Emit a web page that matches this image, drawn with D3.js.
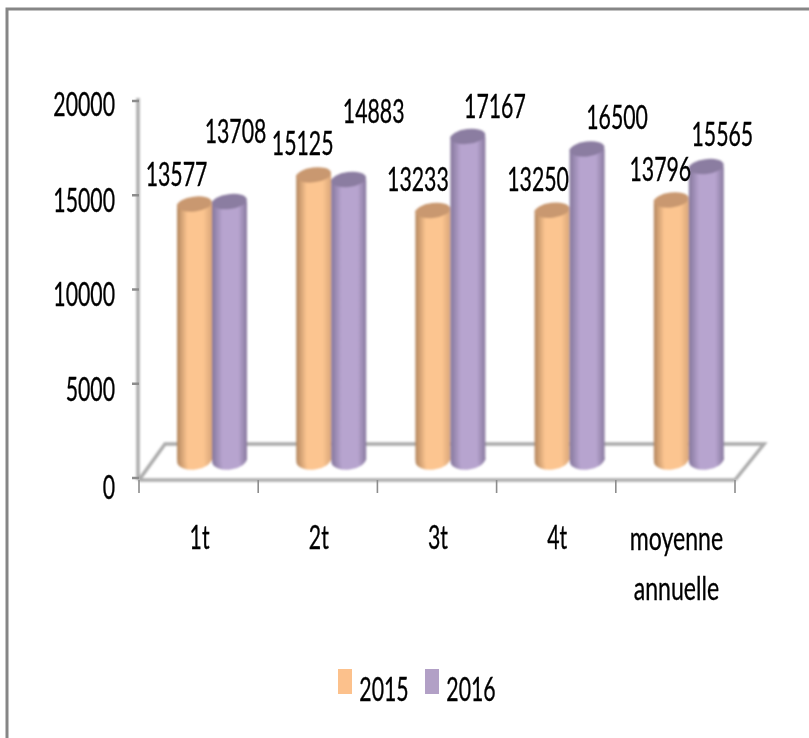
<!DOCTYPE html>
<html><head><meta charset="utf-8">
<script src="https://cdn.jsdelivr.net/npm/d3@7/dist/d3.min.js"></script>
<style>html,body{margin:0;background:#fff;overflow:hidden}svg{display:block}text{font-family:Lato,"Noto Sans",sans-serif;fill:#000;stroke:#000;stroke-width:.35}</style>
</head><body><svg id="c" width="809" height="738"></svg>
<script>
const categories=["1t","2t","3t","4t","moyenne annuelle"];
const seriesNames=["2015","2016"];
const values2015=[13577,15125,13233,13250,13796];
const values2016=[13708,14883,17167,16500,15565];
const tickValues=[0,5000,10000,15000,20000];
const colors2015=["#b4875f","#fcc590","#fcc590","#d9a679"];
const colors2016=["#85779c","#b7a4cf","#b7a4cf","#897a9f"];
const topColors=["#c9986f","#8b7da1"];
const swatchColors=["#fcc18c","#b2a0c6"];
// hand placement of value labels relative to the top of each cylinder
const labelShift={ "2015":[[-18,-31],[-11,-32],[-15,-32],[-14,-32],[-11,-31]],
                   "2016":[[6,-71],[25,-69],[27,-31],[30,-32],[16,-33]] };
// hand placement of tick labels relative to their ticks
const tickLabelDy={0:9,5000:5,10000:4,15000:4,20000:3};

const svg=d3.select("#c");
const defs=svg.append("defs");
defs.append("filter").attr("id","soft").append("feGaussianBlur").attr("stdDeviation",0.85);
defs.append("filter").attr("id","softT").append("feGaussianBlur").attr("stdDeviation",0.35);
[colors2015,colors2016].forEach((cs,i)=>{
  const g=defs.append("linearGradient").attr("id","g"+i);
  [0,.3,.75,1].forEach((o,k)=>g.append("stop").attr("offset",o).attr("stop-color",cs[k]));
});

const W=809,H=738,plotLeft=139,plotRight=735,plotTop=101,plotBottom=478,floorY=480,depthX=26,depthY=36;
const x=d3.scaleBand().domain(categories).range([plotLeft,plotRight]);
const y=d3.scaleLinear().domain([0,20000]).range([plotBottom,plotTop]);
const xs=d3.scaleBand().domain(seriesNames).range([0,70]);
const barInset=38, baseLift=18, ryTop=7.5, ryBase=9.5, tilt=-7;

// narrow tall label, like the stretched original
function label(g,t,cx,cy,sx=.645,anchor="middle"){
  return g.append("text").attr("transform",`translate(${cx},${cy}) scale(${sx},1)`)
    .attr("text-anchor",anchor).attr("dominant-baseline","central")
    .attr("font-size",33).text(t);
}

// outer frame
svg.append("path").attr("d",`M7,${H}V9H${W}`).attr("fill","none").attr("stroke","#868686").attr("stroke-width",3);

// floor + axes
const axes=svg.append("g").attr("filter","url(#soft)").attr("fill","none").attr("stroke","#ababab");
axes.append("path").attr("stroke-width",3.5)
  .attr("d",`M${plotLeft},${floorY}L${plotLeft+depthX},${floorY-depthY}H${plotRight+depthX+3}L${plotRight},${floorY}`);
axes.append("path").attr("stroke-width",3.5).attr("d",`M${plotLeft},${floorY}H${plotRight}`);
axes.append("path").attr("stroke-width",3.5).attr("d",`M${plotLeft-1},${plotTop-3}V${floorY}`);

const tg=svg.append("g").attr("stroke","#8c8c8c").attr("stroke-width",1.6);
d3.range(categories.length+1).forEach(i=>{
  const px=plotLeft+i*x.step();
  tg.append("line").attr("x1",px).attr("x2",px).attr("y1",floorY).attr("y2",floorY+13);
});
tickValues.forEach(v=>tg.append("line").attr("x1",plotLeft-7).attr("x2",plotLeft).attr("y1",y(v)).attr("y2",y(v)).attr("stroke-width",2.5));

// cylinders
const bars=svg.append("g").attr("filter","url(#soft)");
const all=[values2015,values2016];
seriesNames.forEach((s,si)=>{
  all[si].forEach((v,ci)=>{
    const bx=x(categories[ci])+barInset+xs(s), w=xs.bandwidth(), cx=bx+w/2;
    const yTop=y(v)-baseLift, yBase=y(0)-baseLift;
    const g=bars.append("g");
    g.append("ellipse").attr("cx",cx).attr("cy",yBase).attr("rx",w/2).attr("ry",ryBase)
      .attr("transform",`rotate(${tilt},${cx},${yBase})`).attr("fill",`url(#g${si})`);
    g.append("rect").attr("x",bx).attr("y",yTop).attr("width",w).attr("height",yBase-yTop).attr("fill",`url(#g${si})`);
    g.append("ellipse").attr("cx",cx).attr("cy",yTop).attr("rx",w/2).attr("ry",ryTop)
      .attr("transform",`rotate(${tilt},${cx},${yTop})`).attr("fill",topColors[si]);
  });
});

// text
const txt=svg.append("g").attr("filter","url(#softT)");
tickValues.forEach(v=>label(txt,v,115,y(v)+tickLabelDy[v],.645,"end"));
seriesNames.forEach((s,si)=>all[si].forEach((v,ci)=>{
  const cx=x(categories[ci])+barInset+xs(s)+xs.bandwidth()/2;
  const [dx,dy]=labelShift[s][ci];
  label(txt,v,cx+dx,y(v)-baseLift+dy);
}));
categories.forEach(c=>{
  const cx=x(c)+x.bandwidth()/2;
  const lines=c.split(" ");
  lines.forEach((l,i)=>label(txt,l,cx+1,537+i*50,lines.length>1?.7:.645));
});
// legend
const legendX=d3.scalePoint().domain(seriesNames).range([338,425]);
seriesNames.forEach((s,i)=>{
  svg.append("rect").attr("x",legendX(s)).attr("y",669).attr("width",14).attr("height",25).attr("fill",swatchColors[i]);
  label(txt,s,legendX(s)+46,689);
});
</script></body></html>
